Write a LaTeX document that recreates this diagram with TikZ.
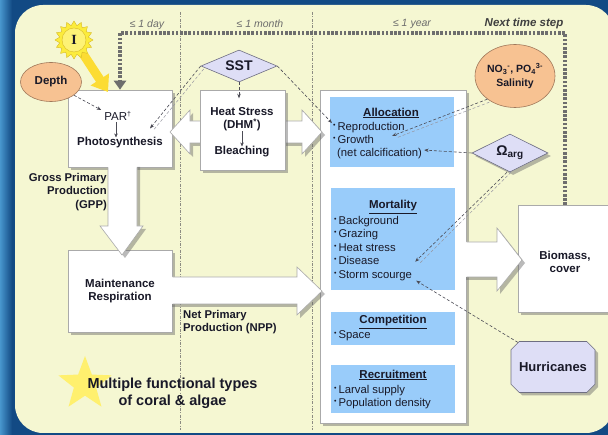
\documentclass[tikz,border=0pt]{standalone}
\usepackage{fontspec}
\setmainfont{Liberation Sans}
\newfontfamily\serifbold{Liberation Serif}
\usetikzlibrary{shapes.geometric,shapes.misc,shadows,arrows.meta,calc}
\definecolor{panelc}{RGB}{245,247,210}
\definecolor{bgdark}{RGB}{18,74,132}
\definecolor{bglight}{RGB}{72,150,205}
\definecolor{boxblue}{RGB}{153,204,250}
\definecolor{orangec}{RGB}{247,194,146}
\definecolor{orangeb}{RGB}{160,120,90}
\definecolor{lavc}{RGB}{222,222,246}
\definecolor{lavb}{RGB}{110,110,130}
\definecolor{sunc}{RGB}{252,236,60}
\definecolor{sunb}{RGB}{215,185,40}
\definecolor{starc}{RGB}{255,240,110}
\definecolor{txt}{RGB}{25,25,40}
\definecolor{connc}{RGB}{75,75,85}
\definecolor{connl}{RGB}{150,150,160}
\definecolor{fbc}{RGB}{110,110,110}
\definecolor{timec}{RGB}{140,140,130}
\definecolor{boxb}{RGB}{170,170,170}
\newcommand{\bulitem}{\raisebox{3pt}{\fontsize{7}{7}\selectfont•}\,}
\begin{document}
\begin{tikzpicture}[x=1pt,y=-1pt,
 font=\fontsize{11.5}{13}\selectfont, text=txt,
 shadowed/.style={drop shadow={shadow xshift=3pt,shadow yshift=-3pt,fill=black!60,opacity=0.45}},
 whitebox/.style={draw=boxb, line width=0.6pt, fill=white, shadowed, inner sep=0pt},
 bluebox/.style={fill=boxblue, inner sep=0pt},
 item/.style={font=\fontsize{11.3}{13}\selectfont, inner sep=0pt, anchor=base west},
 ttl/.style={font=\fontsize{11.5}{13}\selectfont\bfseries, inner sep=0pt},
 blockfill/.style={fill=white, shadowed},
 blockedge/.style={draw=boxb, line width=0.6pt},
 dconn/.style={draw=connc, densely dashed, line width=0.6pt, -{Stealth[length=4.5pt,width=3.5pt]}},
 dconnb/.style={draw=connl, densely dashed, line width=0.5pt},
 smallarrow/.style={draw=connc, line width=0.5pt, -{Stealth[length=4pt,width=3.5pt]}},
 feedback/.style={draw=fbc, line width=3.6pt, dash pattern=on 2.6pt off 1.6pt, -{Triangle[length=9pt,width=12pt]}},
 timeline/.style={draw=timec, line width=0.5pt, dash pattern=on 3pt off 1.5pt on 0.6pt off 1.5pt},
 timelabel/.style={font=\fontsize{10.5}{12}\selectfont\itshape, text=gray!85!black, inner sep=0pt},
 orangeell/.style={ellipse, fill=orangec, draw=orangeb, line width=0.6pt, inner sep=0pt},
 lavdia/.style={diamond, fill=lavc, draw=lavb, line width=0.6pt, inner sep=0pt},
]
\useasboundingbox (0,0) rectangle (608,435);
% background
\fill[bgdark] (0,0) rectangle (608,435);
\shade[left color=bglight, right color=bgdark] (0,0) rectangle (12,435);
\fill[panelc, rounded corners=28pt] (15,5) rectangle (614,433);

% time scale lines and labels
\draw[timeline] (180,12) -- (180,430);
\draw[timeline] (312,12) -- (312,430);
\node[timelabel] (tday) at (147,25) {≤ 1 day};
\node[timelabel] (tmonth) at (260,24) {≤ 1 month};
\node[timelabel] (tyear) at (412,24) {≤ 1 year};
\node[font=\fontsize{11.5}{12}\selectfont\bfseries\itshape, text=gray!50!black, inner sep=0pt] (tnext) at (524,24) {Next time step};

% main boxes
\node[whitebox, minimum width=104pt, minimum height=77pt] (par) at (120,128.5) {};
\node[whitebox, minimum width=104pt, minimum height=82pt] (maint) at (120,291) {};
\node[whitebox, minimum width=146pt, minimum height=333pt] (cont) at (393,256.5) {};
\node[bluebox, minimum width=124pt, minimum height=70pt] (allocbox) at (392,132) {};
\node[bluebox, minimum width=124pt, minimum height=102pt] (mortbox) at (393,239) {};
\node[bluebox, minimum width=124pt, minimum height=33pt] (compbox) at (393,328.5) {};
\node[bluebox, minimum width=124pt, minimum height=48pt] (recbox) at (393,389) {};
\node[whitebox, minimum width=102pt, minimum height=107pt] (bio) at (569,258.5) {};

% feedback loop
\coordinate (fbA) at (565,205);
\coordinate (fbB) at (120,33);
\draw[feedback] (fbA) |- (fbB) -- (par.north);

% double block arrow (PAR <-> allocation)
\path[blockfill] (170,132) -- (190,110) -- (190,121) -- (302,121) -- (302,110) -- (322,132) -- (302,154) -- (302,143) -- (190,143) -- (190,154) -- cycle;
\draw[blockedge] (170,132) -- (190,110) -- (190,121) -- (302,121) -- (302,110) -- (322,132) -- (302,154) -- (302,143) -- (190,143) -- (190,154) -- cycle;

% heat stress box
\node[whitebox, minimum width=85pt, minimum height=80pt] (heatbox) at (242.5,130) {};

% GPP arrow
\path[blockfill] (108,164) -- (108,226) -- (100,226) -- (122,255) -- (143,226) -- (137,226) -- (137,164) -- cycle;
\draw[blockedge] (108,167.5) -- (108,226) -- (100,226) -- (122,255) -- (143,226) -- (137,226) -- (137,167.5);

% NPP arrow
\path[blockfill] (169,277) -- (297,277) -- (297,267) -- (322,291) -- (297,315) -- (297,304) -- (169,304) -- cycle;
\draw[blockedge] (172.5,277) -- (297,277) -- (297,267) -- (322,291) -- (297,315) -- (297,304) -- (172.5,304);

% arrow to biomass
\path[blockfill] (463,242) -- (497,242) -- (497,228) -- (522,260) -- (497,291) -- (497,277) -- (463,277) -- cycle;
\draw[blockedge] (466.5,242) -- (497,242) -- (497,228) -- (522,260) -- (497,291) -- (497,277) -- (466.5,277);

% drivers
\node[orangeell, minimum width=61pt, minimum height=39pt, font=\fontsize{11.5}{12}\selectfont\bfseries] (depth) at (51,82) {Depth};
\node[orangeell, minimum width=80pt, minimum height=63pt, font=\fontsize{10.5}{14}\selectfont\bfseries, align=center] (sal) at (515,76)
  {NO\textsubscript{3}\textsuperscript{-}, PO\textsubscript{4}\textsuperscript{3-}\\Salinity};
\node[lavdia, minimum width=76pt, minimum height=32pt, aspect=2.4, font=\fontsize{14}{14}\selectfont\bfseries] (sst) at (239,66) {SST};
\node[lavdia, minimum width=76pt, minimum height=38pt, aspect=2, font=\fontsize{14}{14}\selectfont\bfseries, shadowed] (omega) at (510,153) {Ω\textsubscript{\fontsize{10}{10}\selectfont arg}};
\node[chamfered rectangle, chamfered rectangle xsep=12pt, minimum width=84pt, minimum height=51pt, fill=lavc, draw=lavb, line width=0.6pt, shadowed, inner sep=0pt, font=\fontsize{13}{14}\selectfont\bfseries] (hur) at (553,367) {Hurricanes};

% sun and yellow arrow
\coordinate (suntip) at (108,92);
\draw[line width=9pt, draw=sunc!85!orange, -{Triangle[length=15pt,width=21pt]}] (74,40) -- (suntip);
\node[star, star points=16, star point ratio=1.3, minimum size=38pt, fill=sunc, draw=sunb, inner sep=0pt] (sunrays) at (74,40) {};
\node[circle, minimum size=24pt, fill=sunc!70!white, draw=sunb, inner sep=0pt, font=\serifbold\bfseries\fontsize{14}{14}\selectfont] (sun) at (74,40) {I};

% star
\node[star, star points=5, star point ratio=2.4, minimum size=56pt, fill=starc, inner sep=0pt] (star) at (85,384) {};
\node[font=\fontsize{14.5}{17}\selectfont\bfseries, align=center, inner sep=0pt] (mft) at (172.5,393.5) {Multiple functional types\\of coral \& algae};

% texts in PAR box
\node[inner sep=0pt, font=\fontsize{11.5}{12}\selectfont] (partext) at (118,116) {PAR\textsuperscript{\fontsize{7}{7}\selectfont\dag}};
\node[ttl] (photo) at (120,143) {Photosynthesis};
\coordinate (pa) at ([xshift=-2pt,yshift=-1pt]partext.south);
\draw[smallarrow] (pa) -- (pa |- photo.north);

% heat stress texts
\node[ttl] (heat) at (242,112) {Heat Stress};
\node[ttl] (dhm) at (242,125) {(DHM\textsuperscript{*})};
\node[ttl] (bleach) at (242,152) {Bleaching};
\draw[smallarrow] (dhm.south) -- (dhm.south |- bleach.north);

% maintenance
\node[ttl, align=center] (mtext) at (120,291) {Maintenance\\Respiration};

% labels
\node[font=\fontsize{11.3}{13.5}\selectfont\bfseries, align=right, anchor=north east, inner sep=0pt] (gpp) at (107,173) {Gross Primary\\Production\\(GPP)};
\node[font=\fontsize{11.3}{13.5}\selectfont\bfseries, align=left, anchor=north west, inner sep=0pt] (npp) at (183,310) {Net Primary\\Production (NPP)};

% biomass
\node[ttl, align=center] (biotext) at (565,262) {Biomass,\\cover};

% allocation
\node[ttl] (alloc) at (391,113) {\underline{Allocation}};
\node[item] (repro) at (333,131) {\bulitem Reproduction};
\node[item] (growth) at (333,144) {\bulitem Growth};
\node[item] (netcalc) at (337,157) {(net calcification)};

% mortality
\node[ttl] (mort) at (393,207) {\underline{Mortality}};
\node[item] (bg) at (334,224.5) {\bulitem Background};
\node[item] (graz) at (334,238) {\bulitem Grazing};
\node[item] (hs) at (334,251.5) {\bulitem Heat stress};
\node[item] (dis) at (334,265) {\bulitem Disease};
\node[item] (storm) at (334,278.5) {\bulitem Storm scourge};

% competition
\node[ttl] (comp) at (393,322) {\underline{Competition}};
\node[item] (space) at (334,339) {\bulitem Space};

% recruitment
\node[ttl] (recr) at (393,375) {\underline{Recruitment}};
\node[item] (larv) at (334,394) {\bulitem Larval supply};
\node[item] (pop) at (334,407) {\bulitem Population density};

% thin dashed influences
\draw[dconn] (depth.-30) -- ($(partext.west)+(-3,-6)$);
\draw[dconn] (sst.south) -- ($(sst.south)+(0,16)$);
\draw[dconnb] ($(sst.west)+(3,3)$) -- ($(photo.north east)+(-9,-8)$);
\draw[dconn] (sst.west) -- ($(photo.north east)+(-13,-9)$);
\draw[dconn] (sst.east) -- ($(repro.west)+(-1,-5)$);
\draw[dconnb] ($(sal.220)+(2,3)$) -- ($(growth.east)+(22,-2)$);
\draw[dconn] (sal.220) -- ($(growth.east)+(18,-4)$);
\draw[dconn] (omega.west) -- ($(netcalc.east)+(2,-4)$);
\draw[dconnb] ($(omega.south)+(1,0)$) -- ($(storm.east)+(7,-12)$);
\draw[dconn] ($(omega.south)+(-3,0)$) -- ($(storm.east)+(3,-14)$);
\draw[dconn] (hur.145) -- ($(storm.east)+(4,5)$);
\end{tikzpicture}
\end{document}
